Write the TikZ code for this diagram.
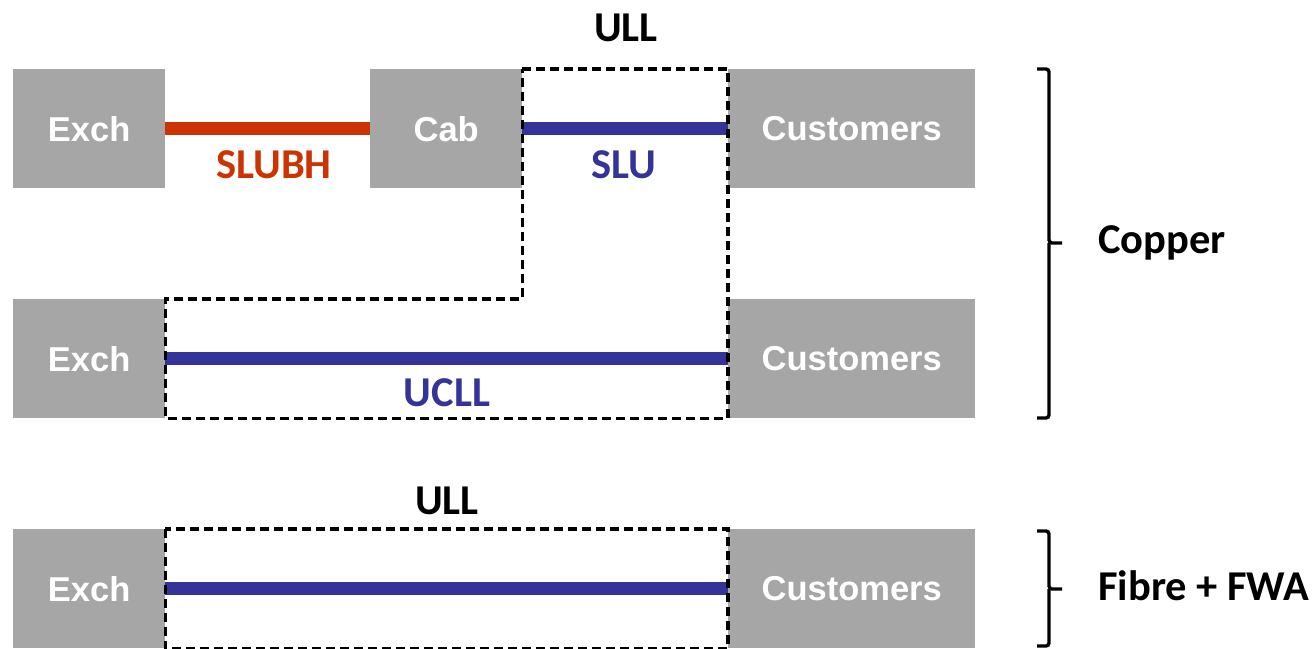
\documentclass[tikz,border=0pt]{standalone}
\usepackage{fontspec}
\setmainfont{Carlito}
\newfontfamily\arialfont{Liberation Sans}
\definecolor{boxgray}{HTML}{A6A6A6}
\definecolor{slubhred}{HTML}{CC3300}
\definecolor{ullblue}{HTML}{333399}
\begin{document}
\begin{tikzpicture}[x=1pt,y=-1pt,
  unit/.style={fill=boxgray,draw=none,text=white,font=\arialfont\bfseries\fontsize{34.5}{38}\selectfont,inner sep=0pt,anchor=north west,minimum height=119pt},
  link/.style={line width=13pt},
  zone/.style={draw=black,line width=3.4pt,dash pattern=on 9pt off 5pt},
  lbl/.style={font=\bfseries\fontsize{42.5}{46}\selectfont,inner sep=0pt},
  brc/.style={draw=black,line width=3.4pt,rounded corners=3pt}]
\useasboundingbox (0,0) rectangle (1316,648);
% Row 1
\node[unit,minimum width=152pt] (ex1) at (13,69) {Exch};
\node[unit,minimum width=152pt] (cab) at (370,69) {Cab};
\node[unit,minimum width=247pt] (cu1) at (728,69) {Customers};
% Row 2
\node[unit,minimum width=152pt] (ex2) at (13,299) {Exch};
\node[unit,minimum width=247pt] (cu2) at (728,299) {Customers};
% Row 3
\node[unit,minimum width=152pt] (ex3) at (13,529) {Exch};
\node[unit,minimum width=247pt] (cu3) at (728,529) {Customers};
% links
\draw[link,slubhred] (ex1.east) -- (cab.west);
\draw[link,ullblue] (cab.east) -- (cu1.west);
\draw[link,ullblue] (ex2.east) -- (cu2.west);
\draw[link,ullblue] (ex3.east) -- (cu3.west);
% dashed zones
\draw[zone] (cab.north east) -- (cu1.north west) -- (cu2.south west) -- (ex2.south east) -- (ex2.north east) -- (cab.east |- ex2.north) -- cycle;
\draw[zone] (ex3.north east) rectangle (cu3.south west);
% labels
\node[lbl,text=slubhred] (l1) at (274,165) {SLUBH};
\node[lbl,text=ullblue] (l2) at (624,165) {SLU};
\node[lbl,text=ullblue] (l3) at (447,393) {UCLL};
\node[lbl] (l4) at (626,28) {ULL};
\node[lbl] (l5) at (447,501) {ULL};
% braces
\draw[brc] (1037,69) -- (1049,69) -- (1049,243) -- (1062,243);
\draw[brc] (1037,418) -- (1049,418) -- (1049,243);
\node[lbl,anchor=west] (cop) at (1098,243) {Copper};
\draw[brc] (1037,531) -- (1049,531) -- (1049,589) -- (1062,589);
\draw[brc] (1037,646) -- (1049,646) -- (1049,589);
\node[lbl,anchor=west] (fib) at (1098,586) {Fibre + FWA};
\end{tikzpicture}
\end{document}
